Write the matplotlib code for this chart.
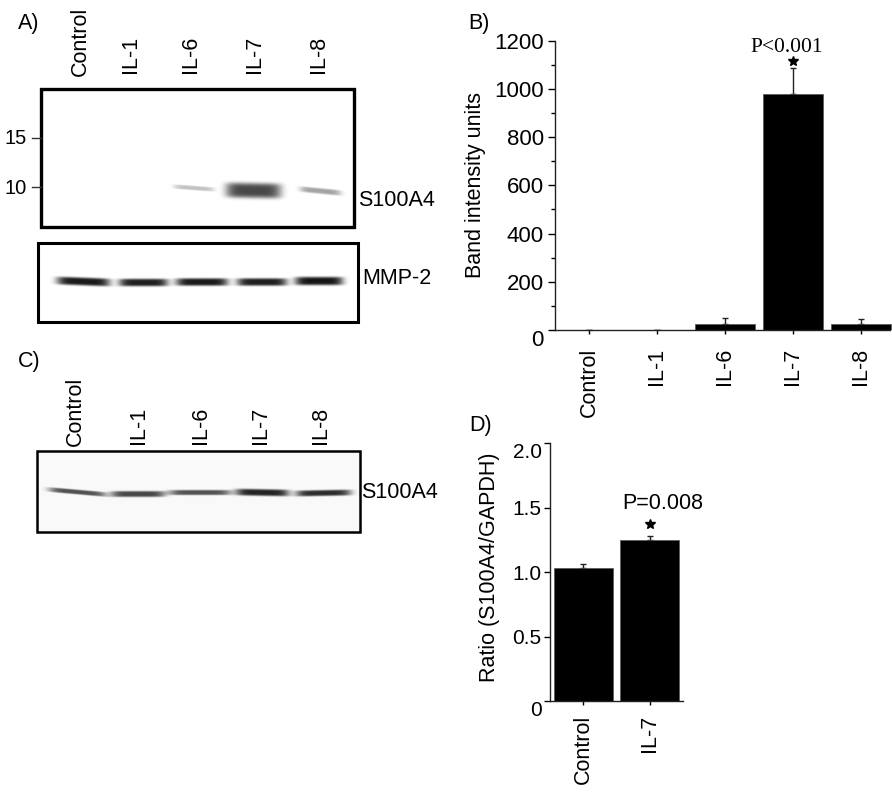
import numpy as np
import matplotlib
matplotlib.use("Agg")
import matplotlib.pyplot as plt
from matplotlib.patches import Rectangle

plt.rcParams["font.family"] = ["Liberation Sans", "DejaVu Sans"]

W, H = 892, 798

# values
lanes = ["Control", "IL-1", "IL-6", "IL-7", "IL-8"]
intensity = [2, 2, 25, 980, 25]
intensity_top = [2, 2, 50, 1085, 45]
ratio_groups = ["Control", "IL-7"]
ratio = [1.03, 1.25]
ratio_top = [1.06, 1.28]

# how dark each blot band is, 0 = white, 1 = black
s100a4_dark = [0.0, 0.0, 0.24, 0.72, 0.36]
mmp2_dark = [0.90, 0.88, 0.90, 0.88, 0.92]
s100a4_c_dark = [0.66, 0.70, 0.66, 0.84, 0.80]

# band geometry in image pixels: x start, x end, y centre, half height, tilt over the band
a_x0 = [0, 0, 174, 226, 300]
a_x1 = [1, 1, 214, 281, 341]
a_y = [0, 0, 188, 190.5, 191]
a_h = [1, 1, 2.2, 7.5, 2.8]
a_tilt = [0, 0, 3, 1, 4]

m_x0 = [57, 119, 176, 237, 295]
m_x1 = [110, 168, 228, 287, 343]
m_y = [281.5, 282.5, 282, 282, 281]
m_h = [4.0, 3.8, 3.8, 3.8, 4.2]
m_tilt = [2, 0, 0, 0, 0]

c_x0 = [49, 111, 169, 236, 296]
c_x1 = [106, 165, 231, 289, 351]
c_y = [492, 494, 492.5, 492.5, 493]
c_h = [2.4, 3.0, 2.6, 3.4, 3.0]
c_tilt = [5, 0, 0, 1, -1]


def band_image(x0, x1, y0, y1, dark, bx0, bx1, by, bh, tilt, back=0.0):
    xs = np.arange(x0, x1) + 0.5
    ys = np.arange(y0, y1) + 0.5
    xx, yy = np.meshgrid(xs, ys)
    img = np.full(xx.shape, back, dtype=float)
    for d, a, b, yc, h, t in zip(dark, bx0, bx1, by, bh, tilt):
        if d == 0:
            continue
        xc = (a + b) / 2
        half = (b - a) / 2
        centre = yc + t * (xx - xc) / (b - a)
        img += d * np.exp(-((xx - xc) / half) ** 6) * np.exp(-(((yy - centre) / h) ** 4))
    return np.clip(img, 0, 1)


def blot(ax, box, dark, bx0, bx1, by, bh, tilt, lw, back=0.0):
    x0, x1, y0, y1 = box
    img = band_image(x0, x1, y0, y1, dark, bx0, bx1, by, bh, tilt, back)
    ax.imshow(1 - img, cmap="gray", vmin=0, vmax=1, extent=(x0, x1, y1, y0),
              aspect="auto", interpolation="bilinear", zorder=1)
    ax.add_patch(Rectangle((x0, y0), x1 - x0, y1 - y0, fill=False, ec="black",
                           lw=lw, zorder=2))


def axes_px(fig, x0, x1, y_top, y_bottom):
    return fig.add_axes([x0 / W, 1 - y_bottom / H, (x1 - x0) / W, (y_bottom - y_top) / H])


def bar_panel(ax, labels, values, tops, width, capsize):
    x = np.arange(len(labels))
    ax.bar(x, values, width=width, color="black", edgecolor="#555555", lw=0.5, zorder=2)
    ax.errorbar(x, values, yerr=[np.zeros(len(x)), np.array(tops) - np.array(values)],
                fmt="none", ecolor="#222222", elinewidth=1, capsize=capsize, capthick=1,
                zorder=1)
    ax.set_xlim(-0.5, len(labels) - 0.5)
    ax.set_xticks(x)
    ax.set_xticklabels(labels, rotation=90, va="top", ha="center")
    for side in ["top", "right"]:
        ax.spines[side].set_visible(False)
    for side in ["left", "bottom"]:
        ax.spines[side].set_linewidth(1.0)
        ax.spines[side].set_color("#222222")


fig = plt.figure(figsize=(W / 100, H / 100), dpi=100)

# whole figure in image pixels, holds the blots and loose text
px = fig.add_axes([0, 0, 1, 1])
blot(px, (41, 354, 89, 227), s100a4_dark, a_x0, a_x1, a_y, a_h, a_tilt, 2.4)
blot(px, (38, 358, 243, 322), mmp2_dark, m_x0, m_x1, m_y, m_h, m_tilt, 2.2)
blot(px, (37, 360, 451, 532), s100a4_c_dark, c_x0, c_x1, c_y, c_h, c_tilt, 1.8, back=0.025)
px.set_xlim(0, W)
px.set_ylim(H, 0)
px.axis("off")

FS = 15.5

for s, x, y in zip(["A)", "B)", "C)", "D)"], [18, 468, 18, 469], [24, 24, 362, 426]):
    px.text(x, y, s, fontsize=FS, ha="left", va="center")

for s, x, y in zip(lanes, [80, 130, 190, 254, 319], [76, 73, 73, 73, 73]):
    px.text(x, y, s, fontsize=FS, rotation=90, ha="center", va="bottom")
for s, x, y in zip(lanes, [75, 138, 200, 260, 320], [446, 444, 444, 444, 444]):
    px.text(x, y, s, fontsize=FS, rotation=90, ha="center", va="bottom")

for s, y in zip(["15", "10"], [138, 187]):
    px.text(27, y + 1, s, fontsize=14.5, ha="right", va="center")
    px.plot([32, 41], [y, y], color="#333333", lw=1)

px.text(358, 201, "S100A4", fontsize=FS, ha="left", va="center")
px.text(362, 279, "MMP-2", fontsize=FS, ha="left", va="center")
px.text(361, 493, "S100A4", fontsize=FS, ha="left", va="center")

# B) band intensity, axis line stops short of the last slot
ax_b = axes_px(fig, 555, 895, 40.7, 330)
bar_panel(ax_b, lanes, intensity, intensity_top, 0.88, 2.5)
ax_b.spines["bottom"].set_bounds(-0.5, 4.42)
ax_b.set_ylim(0, 1200)
ax_b.set_yticks(np.arange(0, 1201, 200))
ax_b.set_yticks(np.arange(100, 1200, 200), minor=True)
ax_b.tick_params(axis="y", which="major", labelsize=16, length=5, width=1, pad=3)
ax_b.tick_params(axis="y", which="minor", length=3, width=1)
ax_b.tick_params(axis="x", labelsize=FS, length=3, width=1, pad=10)
ax_b.get_yticklabels()[0].set_verticalalignment("top")
ax_b.plot([3], [1116], marker="*", ms=7, color="black", clip_on=False)
ax_b.text(2.9, 1170, "P<0.001", family="Liberation Serif", fontsize=FS, ha="center",
          va="center")
px.text(476, 185, "Band intensity units", fontsize=FS, rotation=90, ha="center",
        va="center")

# D) ratio
ax_d = axes_px(fig, 550, 683, 443, 701)
bar_panel(ax_d, ratio_groups, ratio, ratio_top, 0.88, 2.5)
ax_d.set_ylim(0, 2)
ax_d.set_yticks([0, 0.5, 1, 1.5, 2])
ax_d.set_yticklabels(["0", "0.5", "1.0", "1.5", "2.0"])
ax_d.tick_params(axis="y", labelsize=15, length=4, width=1, pad=2)
ax_d.tick_params(axis="x", labelsize=FS, length=3, width=1, pad=7)
ax_d.get_yticklabels()[0].set_verticalalignment("top")
ax_d.get_yticklabels()[4].set_verticalalignment("top")
ax_d.plot([1], [1.37], marker="*", ms=7, color="black", clip_on=False)
ax_d.text(1.2, 1.53, "P=0.008", fontsize=FS, ha="center", va="center")
px.text(490, 567, "Ratio (S100A4/GAPDH)", fontsize=FS, rotation=90, ha="center",
        va="center")

fig.savefig("out.png", dpi=100)
